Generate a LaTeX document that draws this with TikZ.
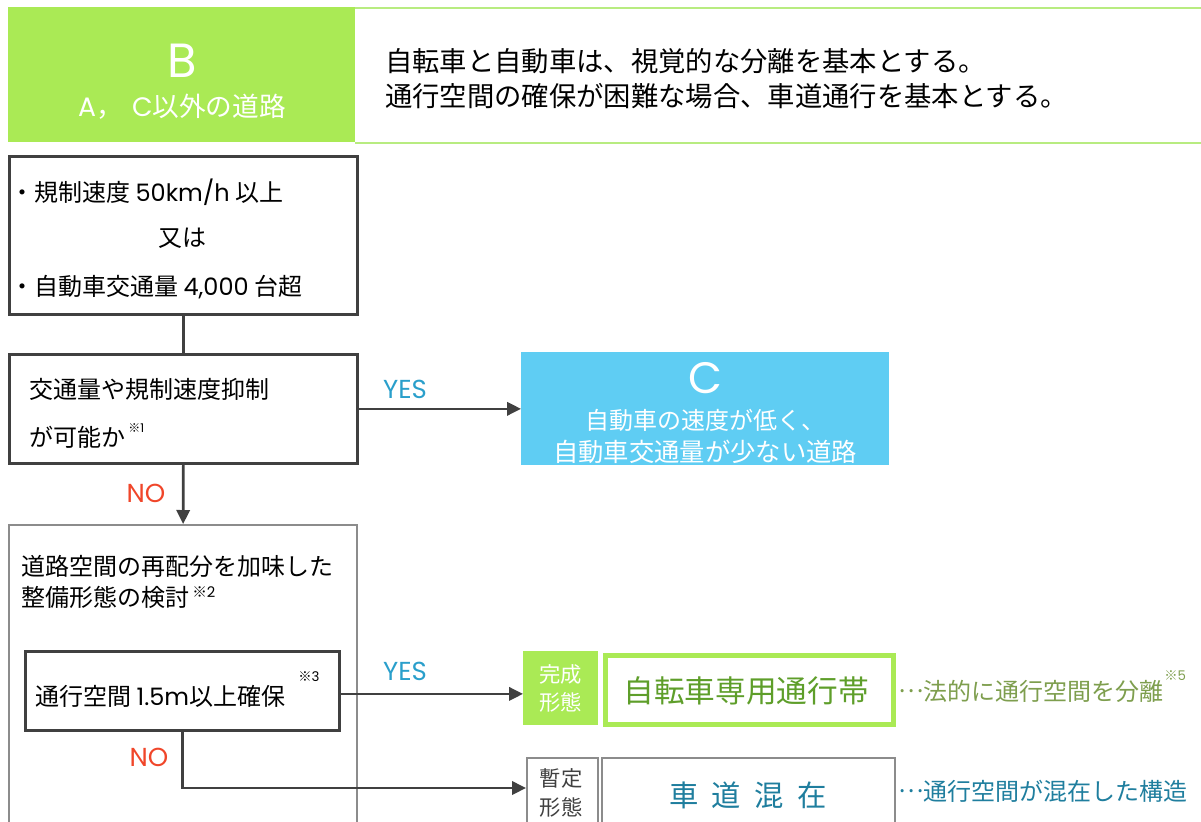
\documentclass[tikz,border=0pt]{standalone}
\usepackage{fontspec}
\setmainfont{Noto Sans CJK JP}
\newfontfamily\lat{Poppins}
\usetikzlibrary{arrows.meta}
\definecolor{dgray}{HTML}{404040}
\definecolor{mgray}{HTML}{8C8C8C}
\definecolor{lime}{HTML}{AAEA55}
\definecolor{hline}{HTML}{B8EC80}
\definecolor{cbox}{HTML}{5FCDF3}
\definecolor{yescol}{HTML}{2A9FCB}
\definecolor{nocol}{HTML}{F0462A}
\definecolor{gtext}{HTML}{5E9E2A}
\definecolor{otext}{HTML}{7E9E4E}
\definecolor{ttext}{HTML}{1F7E9E}
\newcommand{\middots}{\raisebox{0.33em}{…}}
\begin{document}
\begin{tikzpicture}[x=0.75pt,y=-0.75pt,
  frame/.style={draw=dgray, line width=2pt, inner sep=0pt, anchor=north west},
  lframe/.style={draw=mgray, line width=1.7pt, inner sep=0pt, anchor=north west},
  txt/.style={inner sep=0pt, anchor=west, font=\fontsize{18}{18}\selectfont},
  ctxt/.style={inner sep=0pt, font=\fontsize{18}{18}\selectfont},
  note/.style={inner sep=0pt, anchor=west, font=\fontsize{9}{9}\selectfont},
  conn/.style={draw=dgray, line width=2pt},
  arr/.style={conn, -{Triangle[length=10.5pt,width=10pt]}},
  yeslab/.style={inner sep=0pt, text=yescol, font=\lat\fontsize{19.5}{19.5}\selectfont},
  nolab/.style={inner sep=0pt, text=nocol, font=\lat\fontsize{19.5}{19.5}\selectfont}]
\useasboundingbox (0,0) rectangle (1201,821);
\clip (0,0) rectangle (1201,821);

% header
\node[fill=lime, inner sep=0pt, anchor=north west, minimum width=347*0.75pt, minimum height=135*0.75pt] (hdrB) at (8,7) {};
\node[inner sep=0pt, anchor=north west, minimum width=846*0.75pt, minimum height=134*0.75pt] (hdrT) at (355,8) {};
\draw[draw=hline, line width=1.5pt] (hdrT.north west) -- (hdrT.north east);
\draw[draw=hline, line width=1.5pt] (hdrT.south west) -- (hdrT.south east);
\node[ctxt, text=white, font=\lat\fontsize{36}{36}\selectfont] (bL) at (182,61) {B};
\node[ctxt, text=white, font=\fontsize{20}{20}\selectfont] (bS) at (182,107) {{\lat A}，\hspace{7pt}{\lat C}以外の道路};
\node[txt, font=\fontsize{20.5}{20.5}\selectfont] (h1) at (385,61) {自転車と自動車は、視覚的な分離を基本とする。};
\node[txt, font=\fontsize{20.5}{20.5}\selectfont] (h2) at (385,96) {通行空間の確保が困難な場合、車道通行を基本とする。};

% box 1
\node[frame, minimum width=348*0.75pt, minimum height=158*0.75pt] (box1) at (8,155) {};
\node[txt] (t1a) at (10,192) {・規制速度 {\lat 50km/h} 以上};
\node[ctxt] (t1b) at (182,238) {又は};
\node[txt] (t1c) at (10,287) {・自動車交通量 {\lat 4,000} 台超};

% box 2
\node[frame, minimum width=348*0.75pt, minimum height=109*0.75pt] (box2) at (8,353) {};
\node[txt] (t2a) at (29,389) {交通量や規制速度抑制};
\node[txt] (t2b) at (29,437) {が可能か};
\node[note] (n1) at (128,428) {※{\lat 1}};

% box C
\node[fill=cbox, inner sep=0pt, anchor=north west, minimum width=368*0.75pt, minimum height=113*0.75pt] (boxC) at (521,352) {};
\node[ctxt, text=white, font=\lat\fontsize{33}{33}\selectfont] (cL) at (705,378) {C};
\node[ctxt, text=white] (c1) at (705,420) {自動車の速度が低く、};
\node[ctxt, text=white, font=\fontsize{19}{19}\selectfont] (c2) at (705,452) {自動車交通量が少ない道路};

% box 3
\node[lframe, minimum width=348*0.75pt, minimum height=320*0.75pt] (box3) at (8,524) {};
\node[txt] (t3a) at (21,566) {道路空間の再配分を加味した};
\node[txt] (t3b) at (21,597) {整備形態の検討};
\node[note, font=\fontsize{11}{11}\selectfont] (n2) at (192,592) {※{\lat 2}};

% box 4
\node[frame, minimum width=314*0.75pt, minimum height=79*0.75pt] (box4) at (24,650) {};
\node[txt] (t4) at (35,696) {通行空間 {\lat 1.5m}以上確保};
\node[note, font=\fontsize{10}{10}\selectfont] (n3) at (298,677) {※{\lat 3}};

% result boxes
\node[fill=lime, inner sep=0pt, anchor=north west, minimum width=75*0.75pt, minimum height=74*0.75pt] (kansei) at (523,651) {};
\node[ctxt, text=white, font=\fontsize{16}{16}\selectfont] (k1) at (kansei.center) [yshift=10.5pt] {完成};
\node[ctxt, text=white, font=\fontsize{16}{16}\selectfont] (k2) at (kansei.center) [yshift=-10.5pt] {形態};
\node[draw=lime, line width=3.4pt, inner sep=0pt, anchor=north west, minimum width=288*0.75pt, minimum height=69*0.75pt] (jtb) at (603,653) {};
\node[ctxt, text=gtext, font=\fontsize{23}{23}\selectfont] (jtbt) at (746,691) {自転車専用通行帯};
\node[txt, text=otext] (d1) at (898,691) {\middots 法的に通行空間を分離};
\node[note, text=otext, font=\fontsize{10}{10}\selectfont] (n5) at (1164,676) {※{\lat 5}};

\node[lframe, minimum width=71*0.75pt, minimum height=90*0.75pt] (zantei) at (526,757) {};
\node[ctxt, text=dgray, font=\fontsize{16}{16}\selectfont] (z1) at (561,778) {暫定};
\node[ctxt, text=dgray, font=\fontsize{16}{16}\selectfont] (z2) at (561,807) {形態};
\node[lframe, minimum width=293*0.75pt, minimum height=90*0.75pt] (shado) at (601,757) {};
\node[ctxt, text=ttext, font=\fontsize{22}{22}\selectfont] (sdt) at (748,795) {車\hspace{10pt}道\hspace{10pt}混\hspace{10pt}在};
\node[txt, text=ttext] (d2) at (898,791) {\middots 通行空間が混在した構造};

% connectors
\draw[conn] (box1.south) -- (box2.north);
\draw[arr] (box2.east) -- (box2.east -| boxC.west);
\node[yeslab] (yes1) at (405,389) {YES};
\draw[arr] (box2.south) -- (box3.north);
\node[nolab] (no1) at (146,493) {NO};
\draw[arr] ([yshift=-2.3pt]box4.east) -- ([yshift=-2.3pt]box4.east -| kansei.west);
\node[yeslab] (yes2) at (405,671) {YES};
\coordinate (nobend) at (box4.south |- 0,788);
\draw[arr] (box4.south) -- (nobend) -- (nobend -| zantei.west);
\node[nolab] (no2) at (149,757) {NO};
\end{tikzpicture}
\end{document}
